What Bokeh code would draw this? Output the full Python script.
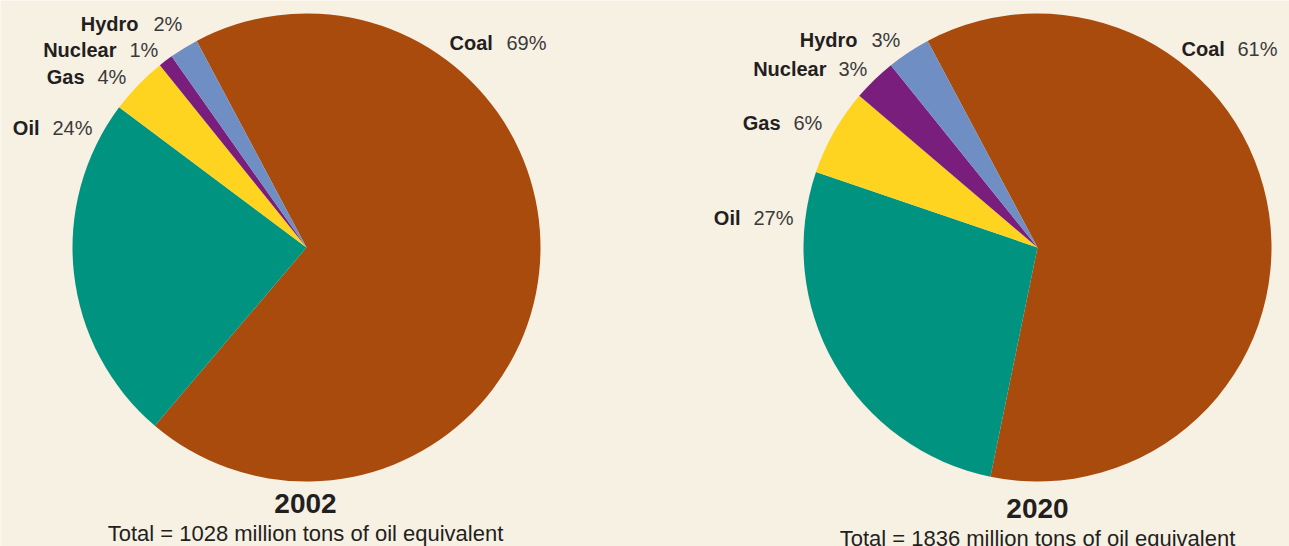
import math
import re
from bokeh.plotting import figure
from bokeh.models import Range1d, ColumnDataSource
from bokeh.core.properties import value
from bokeh.embed import file_html
from bokeh.resources import INLINE

# ---- data ----
categories = ["Coal", "Oil", "Gas", "Nuclear", "Hydro"]
shares_2002 = [69, 24, 4, 1, 2]
shares_2020 = [61, 27, 6, 3, 3]
years = ["2002", "2020"]
totals = [1028, 1836]

# ---- style ----
colors = ["#A84B0C", "#009480", "#FFD420", "#7A1E7E", "#6F8EC4"]
BG = "#F7F1E4"
W, H = 1289, 546
FONT = "Liberation Sans"

def px(x_img, y_img):
    return x_img, H - y_img

p = figure(width=W, height=H, output_backend="svg", toolbar_location=None,
           x_range=Range1d(0, W), y_range=Range1d(0, H), min_border=0)
p.axis.visible = False
p.grid.visible = False
p.outline_line_color = None
p.background_fill_color = BG
p.border_fill_color = BG

offset_deg = 118.0  # start of first slice, counterclockwise from +x

pies = [
    dict(shares=shares_2002, center=(306, 247), r=234,
         name_pos=[("L", 449, 42), ("R", 39, 127), ("R", 84, 76), ("R", 116, 49), ("R", 138, 23)],
         pct_pos=[506, 52, 97, 129, 153],
         year_pos=(305, 503), total_pos=(305, 533)),
    dict(shares=shares_2020, center=(1037, 247), r=234,
         name_pos=[("L", 1181, 48), ("R", 740, 217), ("R", 780, 122), ("R", 826, 68), ("R", 857, 39)],
         pct_pos=[1237, 753, 793, 838, 871],
         year_pos=(1037, 508), total_pos=(1037, 538)),
]

for k, pie in enumerate(pies):
    shares = pie["shares"]
    tot = sum(shares)
    cum = [0]
    for s in shares:
        cum.append(cum[-1] + s)
    starts = [math.radians(offset_deg - 360.0 * c / tot) for c in cum[:-1]]
    ends = [math.radians(offset_deg - 360.0 * c / tot) for c in cum[1:]]
    cx, cy = px(*pie["center"])
    src = ColumnDataSource(dict(start=starts, end=ends, color=colors,
                                x=[cx] * len(shares), y=[cy] * len(shares)))
    p.wedge(x="x", y="y", radius=pie["r"], start_angle="start", end_angle="end",
            direction="clock", fill_color="color", line_color=None, source=src)

    for i, cat in enumerate(categories):
        side, nx, ny = pie["name_pos"][i]
        x, y = px(nx, ny)
        p.text(x=[x], y=[y], text=[cat], text_font=value(FONT), text_font_size="20px",
               text_font_style="bold", text_color="#231F20",
               text_align="left" if side == "L" else "right", text_baseline="middle")
        x2, _ = px(pie["pct_pos"][i], ny)
        p.text(x=[x2], y=[y], text=[f"{shares[i]}%"], text_font=value(FONT),
               text_font_size="20px", text_color="#3A3A3A",
               text_align="left", text_baseline="middle")

    yx, yy = px(*pie["year_pos"])
    p.text(x=[yx], y=[yy], text=[years[k]], text_font=value(FONT), text_font_size="28px",
           text_font_style="bold", text_color="#231F20", text_align="center",
           text_baseline="middle")
    tx, ty = px(*pie["total_pos"])
    p.text(x=[tx], y=[ty], text=[f"Total = {totals[k]} million tons of oil equivalent"],
           text_font=value(FONT), text_font_size="22px", text_color="#231F20",
           text_align="center", text_baseline="middle")

html = file_html(p, INLINE)
html = re.sub(r"<body([^>]*)>",
              lambda m: f'<body{m.group(1)} style="background:{BG}; margin:0; overflow:hidden;">',
              html, count=1)
open("out.html", "w").write(html)
